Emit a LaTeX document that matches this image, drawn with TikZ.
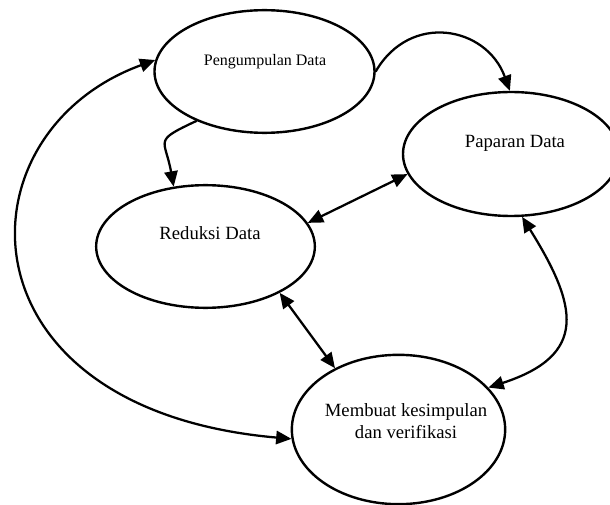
\documentclass[tikz,border=0pt]{standalone}
\usepackage{fontspec}
\setmainfont{Liberation Serif}
\usetikzlibrary{arrows.meta}
\usetikzlibrary{shapes.geometric}

\begin{document}
\begin{tikzpicture}[line cap=round,line join=round,>={Triangle[length=11.5pt,width=10pt]},x=0.75pt,y=0.75pt,
  tahap/.style={draw,ellipse,line width=1.8pt,inner sep=0pt},
  teks/.style={font=\fontsize{14}{16.5}\selectfont,align=center},
  alur/.style={line width=1.7pt}]
\useasboundingbox (0,0) rectangle (610,504);
% tahap-tahap analisis
\node[tahap,minimum width=165pt,minimum height=92pt] (kumpul) at (264.5,432.5) {};
\node[tahap,minimum width=162pt,minimum height=93pt] (papar) at (511,350) {};
\node[tahap,minimum width=164pt,minimum height=92pt] (reduksi) at (205.5,257.5) {};
\node[tahap,minimum width=160pt,minimum height=112pt] (simpul) at (398.5,74.5) {};
\node[teks,font=\fontsize{12}{14}\selectfont] (kumpul-t) at (265,442) {Pengumpulan Data};
\node[teks] (papar-t) at (515,361) {Paparan Data};
\node[teks] (reduksi-t) at (210,271) {Reduksi Data};
\node[teks] (simpul-t) at (406,83) {Membuat kesimpulan\\dan verifikasi};
% alur
\draw[alur,->] (kumpul.east) to[out=60,in=110,looseness=1.3] (papar.91);
\draw[alur,->] (kumpul.216) to[out=205,in=100,looseness=1.8] (reduksi.118);
\draw[alur,<->] (reduksi.13) -- (papar.191);
\draw[alur,<->] (reduksi.328) -- (simpul.136);
\draw[alur,<->] (simpul.185) to[out=175,in=200,out looseness=2.15,in looseness=1.35] (kumpul.174);
\draw[alur,<->] (papar.280) to[out=-58,in=18,looseness=1.55] (simpul.25);
\end{tikzpicture}
\end{document}
